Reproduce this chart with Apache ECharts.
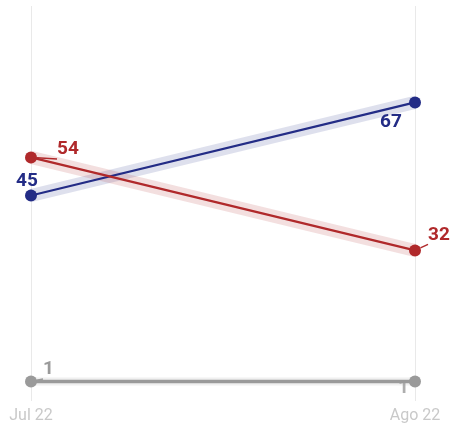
<!DOCTYPE html>
<html><head><meta charset="utf-8">
<script src="https://cdn.jsdelivr.net/npm/echarts@6/dist/echarts.min.js"></script>
<style>html,body{margin:0;padding:0;background:#fff}#c{width:451px;height:425px}</style>
</head><body><div id="c"></div>
<script>
const categories = ['Jul 22', 'Ago 22'];
const blueValues = [45, 67];
const redValues = [54, 32];
const grayValues = [1, 1];

const BLUE = '#232c86', RED = '#b0292b', GRAY = '#9a9a9a';
const FONT = 'Roboto';

function lbl(color, pos, distance, offset, showLine) {
  return {
    label: { show: true, position: pos, distance: distance, offset: offset, color: color,
             fontFamily: FONT, fontWeight: 'bold', fontSize: 19 },
    labelLine: { show: !!showLine, lineStyle: { color: color, width: 1.5 } }
  };
}
function items(vals, specs) {
  return vals.map((v, i) => specs[i] ? Object.assign({ value: v }, specs[i]) : { value: v });
}
function band(vals, color, width, opacity) {
  return { type: 'line', data: vals, symbol: 'none', silent: true, z: 1,
           lineStyle: { color: color, width: width, opacity: opacity } };
}
function main(vals, color, width, specs, z) {
  return { type: 'line', data: items(vals, specs), symbol: 'circle', symbolSize: 12, z: z,
           itemStyle: { color: color }, lineStyle: { color: color, width: width },
           label: { show: false }, emphasis: { disabled: true } };
}

const chart = echarts.init(document.getElementById('c'));
chart.setOption({
  animation: false,
  grid: { left: 31, right: 36, top: 6, bottom: 24 },
  xAxis: { type: 'category', data: categories, boundaryGap: false,
           axisLine: { show: false }, axisTick: { show: false },
           splitLine: { show: true, lineStyle: { color: '#e9e9e9', width: 1 } },
           axisLabel: { color: '#c9c9c9', fontFamily: FONT, fontSize: 16, margin: 7 } },
  yAxis: { type: 'value', min: -3.6, max: 89.8, show: false, splitLine: { show: false } },
  series: [
    band(blueValues, BLUE, 13, 0.15),
    band(redValues, RED, 13, 0.15),
    band(grayValues, GRAY, 8, 0.15),
    { type: 'scatter', data: items(grayValues, [null, lbl(GRAY, 'left', 6, [0, 7], false)]),
      symbolSize: 0, z: 2, silent: true,
      label: { show: false } },
    main(blueValues, BLUE, 2.2, [lbl(BLUE, 'top', 2, [-4, 3], false), lbl(BLUE, 'bottom', 2, [-24, 2], false)], 5),
    main(redValues, RED, 2.2, [lbl(RED, 'right', 20, [0, -8], true), lbl(RED, 'right', 7, [0, -15.5], true)], 5),
    main(grayValues, GRAY, 3.5, [lbl(GRAY, 'right', 6, [0, -12], true), null], 4)
  ]
});
</script></body></html>
